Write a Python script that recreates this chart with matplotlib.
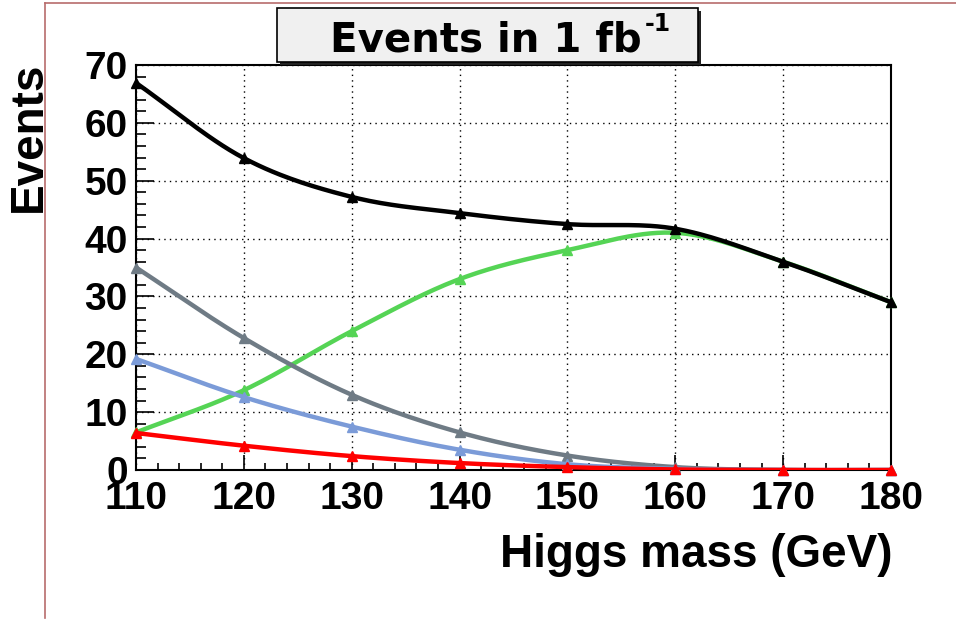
import matplotlib
matplotlib.use("Agg")
import matplotlib.pyplot as plt
from matplotlib.patches import Rectangle
from matplotlib.lines import Line2D
import numpy as np

plt.rcParams['font.family'] = ['Liberation Sans', 'DejaVu Sans']
plt.rcParams['font.weight'] = 'bold'

# Higgs mass points (GeV)
mass = [110, 120, 130, 140, 150, 160, 170, 180]

# Expected events in 1 fb^-1 per channel
total = [66.9, 53.9, 47.2, 44.4, 42.5, 41.7, 36.0, 29.0]
ww = [6.5, 13.8, 24.0, 33.0, 38.0, 41.0, 36.0, 29.0]
tautau = [35.0, 22.8, 13.0, 6.5, 2.5, 0.5, 0.0, 0.0]
gamgam = [19.2, 12.6, 7.5, 3.5, 1.0, 0.2, 0.0, 0.0]
zz = [6.4, 4.2, 2.4, 1.2, 0.5, 0.1, 0.0, 0.0]

series = [
    (ww, '#55d455'),
    (tautau, '#6f7b85'),
    (gamgam, '#7b9bd8'),
    (zz, '#ff0000'),
    (total, '#000000'),
]


def smooth(x, y, n=30):
    # Catmull-Rom curve through the points, like ROOT's "C" draw option
    x = np.asarray(x, float)
    y = np.asarray(y, float)
    m = np.gradient(y, x)
    xs, ys = [], []
    for i in range(len(x) - 1):
        h = x[i + 1] - x[i]
        t = np.linspace(0, 1, n, endpoint=False)
        h00 = 2 * t**3 - 3 * t**2 + 1
        h10 = t**3 - 2 * t**2 + t
        h01 = -2 * t**3 + 3 * t**2
        h11 = t**3 - t**2
        xs.append(x[i] + t * h)
        ys.append(h00 * y[i] + h10 * h * m[i] + h01 * y[i + 1] + h11 * h * m[i + 1])
    xs.append([x[-1]])
    ys.append([y[-1]])
    return np.concatenate(xs), np.concatenate(ys)


W, H = 956, 619
fig = plt.figure(figsize=(W / 100, H / 100), dpi=100)
ax = fig.add_axes([0.1423, 0.2407, 0.7897, 0.6543])

for vals, col in series:
    sx, sy = smooth(mass, vals)
    ax.plot(sx, sy, color=col, lw=3.2, solid_capstyle='butt', zorder=3)
    ax.plot(mass, vals, ls='none', marker='^', ms=7, color=col, zorder=3,
            clip_on=False)

ax.set_xlim(110, 180)
ax.set_ylim(0, 70)
ax.set_xticks(np.arange(110, 181, 10))
ax.set_yticks(np.arange(0, 71, 10))
ax.set_xticks(np.arange(110, 181, 2), minor=True)
ax.set_yticks(np.arange(0, 71, 2), minor=True)
ax.grid(True, which='major', color='black', ls=(0, (1, 3)), lw=1.0, zorder=1)
ax.tick_params(axis='both', which='both', direction='in', top=False, right=False,
               labelsize=28, width=1.2)
ax.tick_params(axis='x', which='major', length=11, pad=8)
ax.tick_params(axis='x', which='minor', length=5)
ax.tick_params(axis='y', which='major', length=13, pad=6)
ax.tick_params(axis='y', which='minor', length=7)
for lab in ax.get_xticklabels() + ax.get_yticklabels():
    lab.set_fontweight('bold')
for sp in ax.spines.values():
    sp.set_linewidth(1.5)

# pad border
fig.add_artist(Line2D([45 / W, 45 / W], [0.002, 1 - 3 / H],
                      transform=fig.transFigure, color='#b86c6c', lw=1.2))
fig.add_artist(Line2D([45 / W, 1.0], [1 - 3 / H, 1 - 3 / H],
                      transform=fig.transFigure, color='#b86c6c', lw=1.2))

# title box with shadow
bx, by, bw, bh = 277 / W, 1 - 62 / H, 421 / W, 54 / H
fig.add_artist(Rectangle((bx + 3 / W, by - 3 / H), bw, bh,
                         transform=fig.transFigure, facecolor='#222222',
                         edgecolor='none', zorder=5))
fig.add_artist(Rectangle((bx, by), bw, bh, transform=fig.transFigure,
                         facecolor='#f0f0f0', edgecolor='black', lw=1.2,
                         zorder=6))
title = fig.text(330 / W, 1 - 52 / H, 'Events in 1 fb', ha='left',
                 va='baseline', fontsize=29, fontweight='bold',
                 family='DejaVu Sans', zorder=7)
fig.canvas.draw()
ext = title.get_window_extent()
fig.text((ext.x1 + 3) / W, 1 - 31 / H, '-1', ha='left', va='baseline',
         fontsize=17, fontweight='bold', family='DejaVu Sans', zorder=7)

fig.text(892 / W, 1 - 567 / H, 'Higgs mass (GeV)', ha='right',
         va='baseline', fontsize=33, fontweight='bold')
fig.text(29 / W, 1 - 137 / H, 'Events', ha='center', va='center',
         rotation=90, fontsize=33, fontweight='bold')

fig.savefig('out.png', dpi=100)
